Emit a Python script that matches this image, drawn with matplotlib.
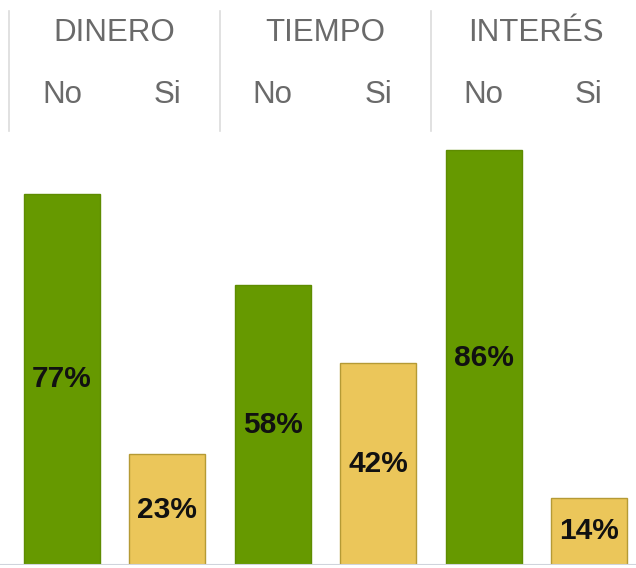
import matplotlib.pyplot as plt

groups = ["DINERO", "TIEMPO", "INTERÉS"]
answers = ["No", "Si"]
values = [77, 23, 58, 42, 86, 14]
labels = ["77%", "23%", "58%", "42%", "86%", "14%"]
colors = ["#669900", "#EBC65A"] * 3
edges = ["#5E8C00", "#B59A35"] * 3

plt.rcParams['font.family'] = ['Liberation Sans', 'DejaVu Sans']

fig = plt.figure(figsize=(6.36, 5.68), dpi=100)
ax = fig.add_axes([0, 3 / 568, 1, 565 / 568])

x = list(range(len(values)))
ax.bar(x, values, width=0.72, color=colors, edgecolor=edges, linewidth=1)

# percentage labels centred in each bar
for xi, v, lab in zip(x, values, labels):
    ax.text(xi, v / 2, lab, ha='center', va='center', fontsize=21.5,
            fontweight='bold', color='#111111')

# header: group names, No/Si, separators
for i, g in enumerate(groups):
    ax.text(2 * i + 0.5, 110.3, g, ha='center', va='center', fontsize=22.5,
            color='#6A6A6A')
    for j, a in enumerate(answers):
        ax.text(2 * i + j, 97.5, a, ha='center', va='center', fontsize=22.5,
                color='#6A6A6A')
    ax.plot([2 * i - 0.5, 2 * i - 0.5], [90, 115], color='#DCDCDC', lw=1.2)

ax.axhline(0, color='#D0D4DC', lw=1.5)

ax.set_xlim(-62 / 105.4, (636 - 62) / 105.4)
ax.set_ylim(0, 565 / 4.82)
ax.axis('off')

fig.savefig("out.png", dpi=100)
